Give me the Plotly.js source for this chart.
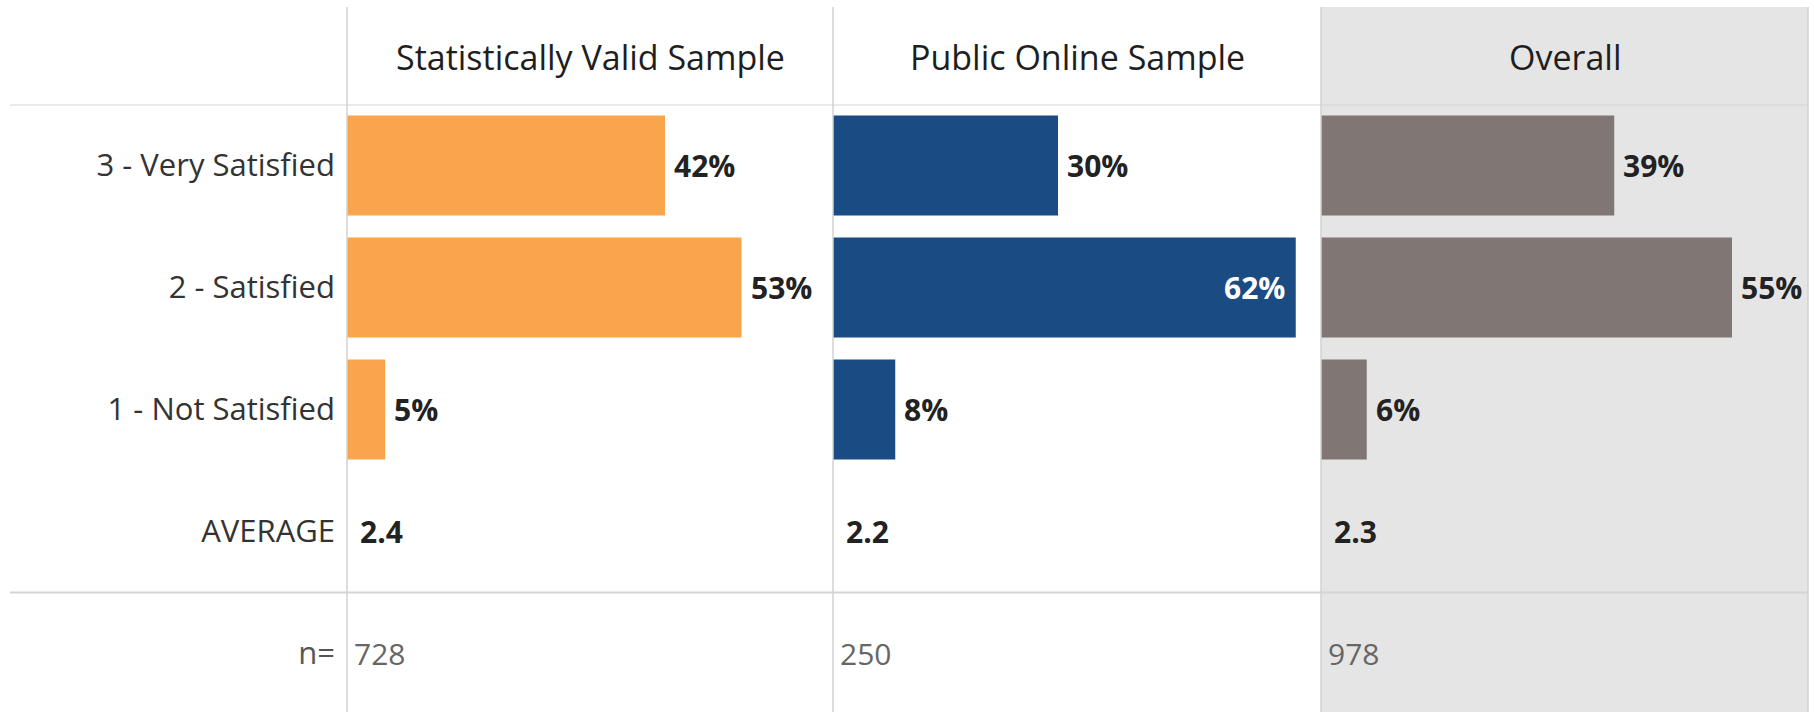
<!DOCTYPE html>
<html><head><meta charset="utf-8">
<script src="https://cdn.plot.ly/plotly-3.0.1.min.js"></script>
<style>html,body{margin:0;padding:0;background:#fff}#chart{width:1814px;height:712px}</style>
</head><body><div id="chart"></div>
<script>
// ---- data ----
const rowLabels = ['3 - Very Satisfied', '2 - Satisfied', '1 - Not Satisfied', 'AVERAGE', 'n='];
const satisfactionLevels = ['3 - Very Satisfied', '2 - Satisfied', '1 - Not Satisfied'];
const groups = ['Statistically Valid Sample', 'Public Online Sample', 'Overall'];
const svsValues = [42.4, 52.6, 5.1];
const publicValues = [30.0, 61.7, 8.3];
const overallValues = [39.1, 54.8, 6.1];
const averages = ['2.4', '2.2', '2.3'];
const sampleSizes = ['728', '250', '978'];
const groupColors = ['#f9a54b', '#1a4b82', '#807673'];

// ---- layout helpers ----
const W = 1814, H = 712;
const px = v => v / W;
const py = v => 1 - v / H;
const panelEdges = [347, 833, 1321, 1808];
const pxPerUnit = 7.5;
const rowPitch = 122;
const headerLineY = 104.5;
const topY = 7;
const FONT = 'Open Sans, sans-serif';

const seriesValues = [svsValues, publicValues, overallValues];
const axisIds = ['x', 'x2', 'x3'];
const axisKeys = ['xaxis', 'xaxis2', 'xaxis3'];

const traces = seriesValues.map((vals, i) => ({
  type: 'bar', orientation: 'h',
  x: vals, y: satisfactionLevels,
  xaxis: axisIds[i], yaxis: 'y',
  width: 0.82,
  marker: {color: groupColors[i], line: {width: 0}},
  hoverinfo: 'skip', showlegend: false
}));

const layout = {
  width: W, height: H,
  margin: {l: 0, r: 0, t: 0, b: 0, pad: 0},
  paper_bgcolor: '#ffffff', plot_bgcolor: 'rgba(0,0,0,0)',
  font: {family: FONT, color: '#333333'},
  showlegend: false,
  yaxis: {
    type: 'category', categoryarray: rowLabels, categoryorder: 'array',
    domain: [0, py(headerLineY)],
    range: [(H - headerLineY) / rowPitch - 0.5, -0.5],
    anchor: 'x',
    tickmode: 'array', tickvals: rowLabels,
    ticktext: rowLabels.map(r => r === 'n=' ? '<span style="color:#555555">' + r + '</span>' : r),
    tickfont: {family: FONT, size: 31, color: '#333333'},
    ticks: '', ticklabelstandoff: 11,
    showgrid: false, zeroline: false, showline: false, fixedrange: true
  },
  shapes: [], annotations: []
};

axisKeys.forEach((k, i) => {
  const x0 = panelEdges[i], x1 = panelEdges[i + 1];
  layout[k] = {
    domain: [px(x0), px(x1)],
    range: [0, (x1 - x0) / pxPerUnit],
    anchor: 'y', visible: false, showgrid: false, zeroline: false, fixedrange: true
  };
});

// Overall column background
layout.shapes.push({type: 'rect', layer: 'below', xref: 'x3 domain', yref: 'paper',
  x0: 0, x1: 1, y0: 0, y1: py(topY), fillcolor: '#e5e5e5', line: {width: 0}});

// vertical separators
axisIds.forEach(id => {
  layout.shapes.push({type: 'line', layer: 'above', xref: id + ' domain', yref: 'paper',
    x0: 0, x1: 0, y0: 0, y1: py(topY), line: {color: '#d2d2d2', width: 1.5}});
});
layout.shapes.push({type: 'line', layer: 'above', xref: 'x3 domain', yref: 'paper',
  x0: 1, x1: 1, y0: 0, y1: py(topY), line: {color: '#d0d0d0', width: 1.5}});

// horizontal separators (header bottom, above n= row)
[-0.5, 3.5].forEach(yv => {
  layout.shapes.push({type: 'line', layer: 'above', xref: 'paper', yref: 'y',
    x0: px(10), x1: px(1808), y0: yv, y1: yv, line: {color: '#d4d4d4', width: 2}});
});

// headers
groups.forEach((g, i) => {
  layout.annotations.push({xref: axisIds[i] + ' domain', yref: 'paper', x: 0.5, y: py(57),
    xanchor: 'center', yanchor: 'middle', showarrow: false, text: g,
    font: {family: FONT, size: 34, color: '#1e1e1e'}});
});

// percent labels
seriesValues.forEach((vals, i) => {
  const x0 = panelEdges[i], x1 = panelEdges[i + 1];
  vals.forEach((v, j) => {
    const label = Math.round(v) + '%';
    const fitsOutside = v * pxPerUnit + 8 + 62 < (x1 - x0);
    layout.annotations.push({xref: axisIds[i], yref: 'y', x: v, y: satisfactionLevels[j],
      xanchor: fitsOutside ? 'left' : 'right', xshift: fitsOutside ? 7 : -9,
      yanchor: 'middle', showarrow: false, text: label,
      font: {family: FONT, size: 30, weight: 'bold', color: fitsOutside ? '#222222' : '#ffffff'}});
  });
});

// averages and sample sizes
axisIds.forEach((id, i) => {
  layout.annotations.push({xref: id, yref: 'y', x: 0, y: 'AVERAGE', xanchor: 'left', xshift: 11,
    yanchor: 'middle', showarrow: false, text: averages[i],
    font: {family: FONT, size: 30, weight: 'bold', color: '#222222'}});
  layout.annotations.push({xref: id, yref: 'y', x: 0, y: 'n=', xanchor: 'left', xshift: 5,
    yanchor: 'middle', showarrow: false, text: sampleSizes[i],
    font: {family: FONT, size: 30, color: '#666666'}});
});

Plotly.newPlot('chart', traces, layout, {displayModeBar: false, staticPlot: true});
</script>
</body></html>
